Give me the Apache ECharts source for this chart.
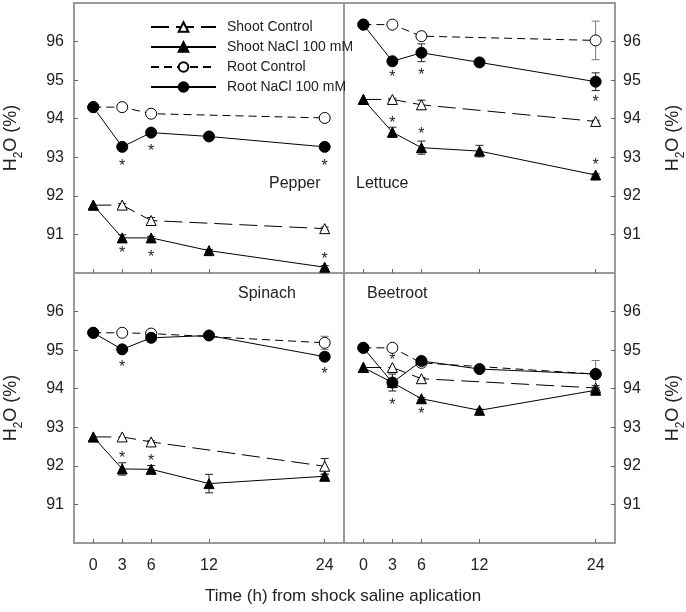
<!DOCTYPE html>
<html>
<head>
<meta charset="utf-8">
<script src="https://cdn.jsdelivr.net/npm/echarts@6/dist/echarts.min.js"></script>
<style>
  html, body { margin: 0; padding: 0; background: #fff; }
  #chart { width: 686px; height: 612px; }
</style>
</head>
<body>
<div id="chart"></div>
<script>
// sampling times (h); controls were not sampled at 12 h
const times = [0, 3, 6, 12, 24]
const ctrlTimes = [0, 3, 6, 24]
const yTicks = [91, 92, 93, 94, 95, 96]
const seriesNames = ['Shoot Control', 'Shoot NaCl 100 mM', 'Root Control', 'Root NaCl 100 mM']

// Pepper
const pepperShootCtrl = [91.76, 91.76, 91.36, 91.15]
const pepperShootNaCl = [91.76, 90.91, 90.91, 90.58, 90.15]
const pepperRootCtrl = [94.30, 94.30, 94.13, 94.02]
const pepperRootNaCl = [94.30, 93.27, 93.64, 93.54, 93.27]
const pepperShootCtrlErr = [0, 0.04, 0.08, 0.04]
const pepperShootNaClErr = [0, 0.08, 0.04, 0.03, 0.04]
const pepperRootCtrlErr = [0, 0, 0, 0]
const pepperRootNaClErr = [0, 0, 0, 0, 0]

// Lettuce
const lettuceShootCtrl = [94.50, 94.50, 94.36, 93.93]
const lettuceShootNaCl = [94.50, 93.65, 93.25, 93.16, 92.54]
const lettuceRootCtrl = [96.44, 96.44, 96.14, 96.03]
const lettuceRootNaCl = [96.44, 95.49, 95.71, 95.46, 94.96]
const lettuceShootCtrlErr = [0, 0.03, 0.12, 0.03]
const lettuceShootNaClErr = [0, 0.13, 0.17, 0.15, 0.03]
const lettuceRootCtrlErr = [0.05, 0.08, 0.08, 0.5]
const lettuceRootNaClErr = [0, 0.08, 0.23, 0.06, 0.23]

// Spinach
const spinachShootCtrl = [92.75, 92.75, 92.62, 91.99]
const spinachShootNaCl = [92.75, 91.92, 91.91, 91.54, 91.73]
const spinachRootCtrl = [95.45, 95.45, 95.43, 95.19]
const spinachRootNaCl = [95.45, 95.02, 95.32, 95.38, 94.83]
const spinachShootCtrlErr = [0, 0, 0.03, 0.2]
const spinachShootNaClErr = [0, 0.16, 0.1, 0.24, 0.04]
const spinachRootCtrlErr = [0, 0, 0, 0.17]
const spinachRootNaClErr = [0, 0, 0.04, 0.04, 0.1]

// Beetroot
const beetShootCtrl = [94.55, 94.55, 94.26, 94.02]
const beetShootNaCl = [94.55, 94.16, 93.74, 93.44, 93.96]
const beetRootCtrl = [95.06, 95.06, 94.67, 94.38]
const beetRootNaCl = [95.06, 94.16, 94.72, 94.51, 94.38]
const beetShootCtrlErr = [0, 0, 0.03, 0.06]
const beetShootNaClErr = [0, 0.05, 0.03, 0.03, 0.03]
const beetRootCtrlErr = [0, 0, 0.05, 0.35]
const beetRootNaClErr = [0, 0.22, 0.1, 0.03, 0.03]

// significance marks: [time, series index, pixel offset from the point]
const pepperStars = [[3, 3, 16], [6, 3, 15], [24, 3, 16], [3, 1, 12], [6, 1, 16], [24, 1, -12]]
const lettuceStars = [[3, 3, 12], [6, 3, 19], [24, 3, 17], [3, 1, -13], [6, 1, -17], [24, 1, -13]]
const spinachStars = [[3, 3, 14], [24, 3, 14], [3, 1, -14], [6, 1, -12]]
const beetStars = [[3, 2, 9], [3, 3, 19], [6, 1, 12]]

const panels = [
  { name: 'Pepper', data: [pepperShootCtrl, pepperShootNaCl, pepperRootCtrl, pepperRootNaCl],
    err: [pepperShootCtrlErr, pepperShootNaClErr, pepperRootCtrlErr, pepperRootNaClErr], stars: pepperStars },
  { name: 'Lettuce', data: [lettuceShootCtrl, lettuceShootNaCl, lettuceRootCtrl, lettuceRootNaCl],
    err: [lettuceShootCtrlErr, lettuceShootNaClErr, lettuceRootCtrlErr, lettuceRootNaClErr], stars: lettuceStars },
  { name: 'Spinach', data: [spinachShootCtrl, spinachShootNaCl, spinachRootCtrl, spinachRootNaCl],
    err: [spinachShootCtrlErr, spinachShootNaClErr, spinachRootCtrlErr, spinachRootNaClErr], stars: spinachStars },
  { name: 'Beetroot', data: [beetShootCtrl, beetShootNaCl, beetRootCtrl, beetRootNaCl],
    err: [beetShootCtrlErr, beetShootNaClErr, beetRootCtrlErr, beetRootNaClErr], stars: beetStars }
]

const FONT = '"Liberation Sans", Arial, sans-serif'
const gridPos = [
  { left: 74, top: 3, width: 270, height: 270 },
  { left: 344, top: 3, width: 271, height: 270 },
  { left: 74, top: 273, width: 270, height: 270 },
  { left: 344, top: 273, width: 271, height: 270 }
]
const seriesStyle = [
  { symbol: 'triangle', size: 10, fill: '#fff', dash: [18, 7] },
  { symbol: 'triangle', size: 10, fill: '#000', dash: 'solid' },
  { symbol: 'circle', size: 11, fill: '#fff', dash: [8, 5] },
  { symbol: 'circle', size: 11, fill: '#000', dash: 'solid' }
]

const h2oName = {
  name: '{a|H}{s|2}{a|O (%)}',
  nameLocation: 'middle',
  nameTextStyle: {
    rich: {
      a: { fontFamily: FONT, fontSize: 18, color: '#222', verticalAlign: 'bottom', padding: [0, 0, 5, 0] },
      s: { fontFamily: FONT, fontSize: 12, color: '#222', verticalAlign: 'bottom' }
    }
  }
}

const option = {
  animation: false,
  backgroundColor: '#fff',
  legend: {
    data: seriesNames,
    orient: 'vertical',
    left: 145,
    top: 15,
    itemWidth: 65,
    itemHeight: 12,
    itemGap: 6,
    textStyle: { fontFamily: FONT, fontSize: 14, color: '#222', padding: [0, 0, 0, 6] }
  },
  grid: gridPos.map(g => Object.assign({ show: true, borderColor: '#999', borderWidth: 2, outerBoundsMode: 'none', containLabel: false }, g)),
  xAxis: gridPos.map((g, i) => ({
    type: 'value',
    gridIndex: i,
    min: -2,
    max: 26,
    axisLine: { show: false, onZero: false },
    splitLine: { show: false },
    axisTick: { inside: true, length: 4, customValues: times, lineStyle: { color: '#666' } },
    axisLabel: {
      show: i >= 2,
      customValues: times,
      margin: 15,
      fontFamily: FONT,
      fontSize: 16,
      color: '#222'
    }
  })),
  yAxis: gridPos.map((g, i) => Object.assign({
    type: 'value',
    gridIndex: i,
    min: 90,
    max: 97,
    position: i % 2 === 0 ? 'left' : 'right',
    nameGap: i % 2 === 0 ? 49 : 49,
    nameRotate: 90,
    axisLine: { show: false, onZero: false },
    splitLine: { show: false },
    axisTick: { inside: true, length: 4, customValues: yTicks, lineStyle: { color: '#666' } },
    axisLabel: {
      customValues: yTicks,
      margin: i % 2 === 0 ? 10 : 8,
      fontFamily: FONT,
      fontSize: 16,
      color: '#222'
    }
  }, h2oName)),
  graphic: [
    { type: 'text', left: 269, top: 176, style: { text: 'Pepper', font: '16px ' + FONT, fill: '#222' } },
    { type: 'text', left: 356, top: 176, style: { text: 'Lettuce', font: '16px ' + FONT, fill: '#222' } },
    { type: 'text', left: 238, top: 286, style: { text: 'Spinach', font: '16px ' + FONT, fill: '#222' } },
    { type: 'text', left: 367, top: 286, style: { text: 'Beetroot', font: '16px ' + FONT, fill: '#222' } },
    { type: 'text', left: 'center', top: 588, style: { text: 'Time (h) from shock saline aplication', font: '17px ' + FONT, fill: '#222' } }
  ],
  series: []
}

panels.forEach((p, gi) => {
  p.data.forEach((vals, si) => {
    const t = si % 2 === 0 ? ctrlTimes : times
    const st = seriesStyle[si]
    // error bars under the markers
    option.series.push({
      type: 'custom',
      xAxisIndex: gi,
      yAxisIndex: gi,
      z: 1,
      silent: true,
      data: vals.map((v, k) => [t[k], v - p.err[si][k], v + p.err[si][k]]).filter((d, k) => p.err[si][k] > 0),
      renderItem(params, api) {
        const lo = api.coord([api.value(0), api.value(1)])
        const hi = api.coord([api.value(0), api.value(2)])
        const s = { stroke: si === 2 ? '#777' : '#222', lineWidth: 1 }
        return {
          type: 'group',
          children: [
            { type: 'line', shape: { x1: lo[0], y1: lo[1], x2: hi[0], y2: hi[1] }, style: s },
            { type: 'line', shape: { x1: lo[0] - 4, y1: lo[1], x2: lo[0] + 4, y2: lo[1] }, style: s },
            { type: 'line', shape: { x1: hi[0] - 4, y1: hi[1], x2: hi[0] + 4, y2: hi[1] }, style: s }
          ]
        }
      }
    })
    option.series.push({
      name: seriesNames[si],
      type: 'line',
      xAxisIndex: gi,
      yAxisIndex: gi,
      z: 3 + si,
      data: vals.map((v, k) => [t[k], v]),
      symbol: st.symbol,
      symbolSize: st.size,
      showAllSymbol: true,
      lineStyle: { color: '#000', width: 1, type: st.dash },
      itemStyle: { color: st.fill, borderColor: '#000', borderWidth: 1 }
    })
  })
  // asterisks
  option.series.push({
    type: 'custom',
    xAxisIndex: gi,
    yAxisIndex: gi,
    z: 10,
    silent: true,
    data: p.stars.map(s => {
      const t = s[1] % 2 === 0 ? ctrlTimes : times
      return [s[0], p.data[s[1]][t.indexOf(s[0])], s[2]]
    }),
    renderItem(params, api) {
      const c = api.coord([api.value(0), api.value(1)])
      return {
        type: 'text',
        style: {
          text: '*',
          x: c[0],
          y: c[1] + api.value(2) + 4,
          align: 'center',
          verticalAlign: 'middle',
          font: '16px ' + FONT,
          fill: '#222'
        }
      }
    }
  })
})

const chart = echarts.init(document.getElementById('chart'))
chart.setOption(option)
</script>
</body>
</html>
